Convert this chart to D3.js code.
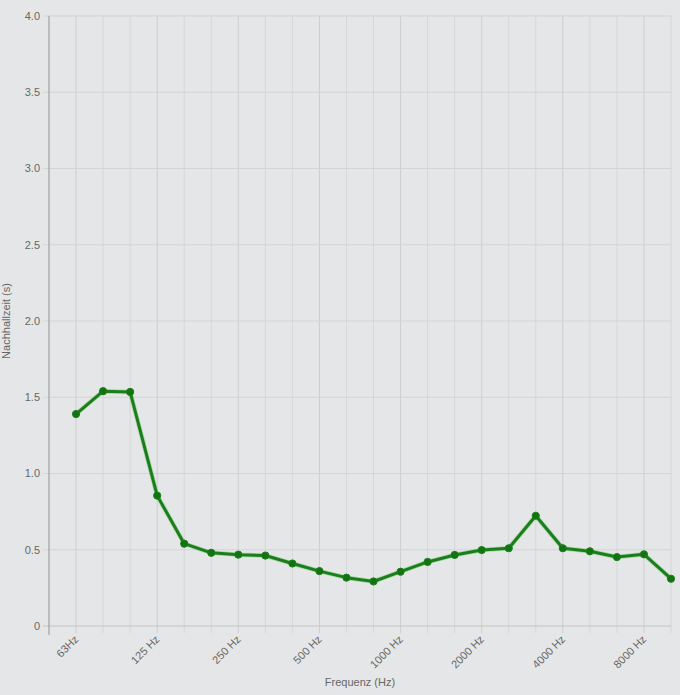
<!DOCTYPE html>
<html><head><meta charset="utf-8">
<script src="https://cdn.jsdelivr.net/npm/d3@7"></script>
<style>
html,body{margin:0;padding:0;background:#e5e6e7;}
svg{display:block;font-family:"Liberation Sans",Arial,sans-serif;}
</style></head>
<body>
<script>
const frequencies = ["63","80","100","125","160","200","250","315","400","500","630","800","1000","1250","1600","2000","2500","3150","4000","5000","6300","8000","10000"];
const reverbTimes = [1.39,1.54,1.535,0.855,0.54,0.48,0.468,0.462,0.41,0.36,0.317,0.292,0.356,0.42,0.466,0.498,0.51,0.723,0.51,0.49,0.452,0.47,0.31];
const labelledTicks = {"63":"63Hz","125":"125 Hz","250":"250 Hz","500":"500 Hz","1000":"1000 Hz","2000":"2000 Hz","4000":"4000 Hz","8000":"8000 Hz"};
const yTicks = [0,0.5,1.0,1.5,2.0,2.5,3.0,3.5,4.0];

(function(){
const W = 680, H = 695;
const pL = 49, pR = 671, pT = 16, pB = 626;
const svg = d3.select("body").append("svg").attr("width", W).attr("height", H);
svg.append("rect").attr("width", W).attr("height", H).attr("fill", "#e5e6e7");

const x = d3.scaleLinear().domain([-1, frequencies.length - 1]).range([pL, pR]);
const y = d3.scaleLinear().domain([0, 4]).range([pB, pT]);

// vertical grid
const gx = svg.append("g");
d3.range(-1, frequencies.length).forEach(i => {
  const labelled = i >= 0 && labelledTicks[frequencies[i]] !== undefined;
  gx.append("line").attr("x1", x(i)).attr("x2", x(i)).attr("y1", pT).attr("y2", pB + 7)
    .attr("stroke", labelled ? "#cdcecf" : "#d6d7d8").attr("stroke-width", 1);
});
// horizontal grid
const gy = svg.append("g");
yTicks.forEach(t => {
  gy.append("line").attr("x1", pL - 6).attr("x2", pR).attr("y1", y(t)).attr("y2", y(t))
    .attr("stroke", t === 0 ? "#c4c5c6" : "#d3d4d5").attr("stroke-width", 1);
  gy.append("text").attr("x", pL - 9).attr("y", y(t)).attr("dy", "0.35em")
    .attr("text-anchor", "end").attr("font-size", 11).attr("fill", "#666")
    .text(t === 0 ? "0" : d3.format(".1f")(t));
});
// y axis line
svg.append("line").attr("x1", pL).attr("x2", pL).attr("y1", pT).attr("y2", pB + 9)
  .attr("stroke", "#9a9b9c").attr("stroke-width", 1);

// x tick labels
frequencies.forEach((f, i) => {
  if (labelledTicks[f] === undefined) return;
  svg.append("text")
    .attr("transform", `translate(${x(i) + 3},${pB + 14}) rotate(-45)`)
    .attr("text-anchor", "end").attr("font-size", 11).attr("fill", "#666")
    .text(labelledTicks[f]);
});

// axis titles
svg.append("text").attr("x", (pL + pR) / 2).attr("y", 686).attr("text-anchor", "middle")
  .attr("font-size", 11).attr("fill", "#666").text("Frequenz (Hz)");
svg.append("text").attr("transform", `translate(10,${(pT + pB) / 2}) rotate(-90)`)
  .attr("text-anchor", "middle").attr("font-size", 11).attr("fill", "#666").text("Nachhallzeit (s)");

// line
const line = d3.line().x((d, i) => x(i)).y(d => y(d));
svg.append("path").datum(reverbTimes).attr("d", line).attr("fill", "none")
  .attr("stroke", "#6fc76f").attr("stroke-width", 4.5).attr("stroke-linejoin", "round").attr("opacity", 0.5);
svg.append("path").datum(reverbTimes).attr("d", line).attr("fill", "none")
  .attr("stroke", "#1a7f1a").attr("stroke-width", 3).attr("stroke-linejoin", "round");
svg.append("g").selectAll("circle").data(reverbTimes).join("circle")
  .attr("cx", (d, i) => x(i)).attr("cy", d => y(d)).attr("r", 3.6)
  .attr("fill", "#137313").attr("stroke", "#1a7f1a").attr("stroke-width", 1);
})();
</script>
</body></html>
